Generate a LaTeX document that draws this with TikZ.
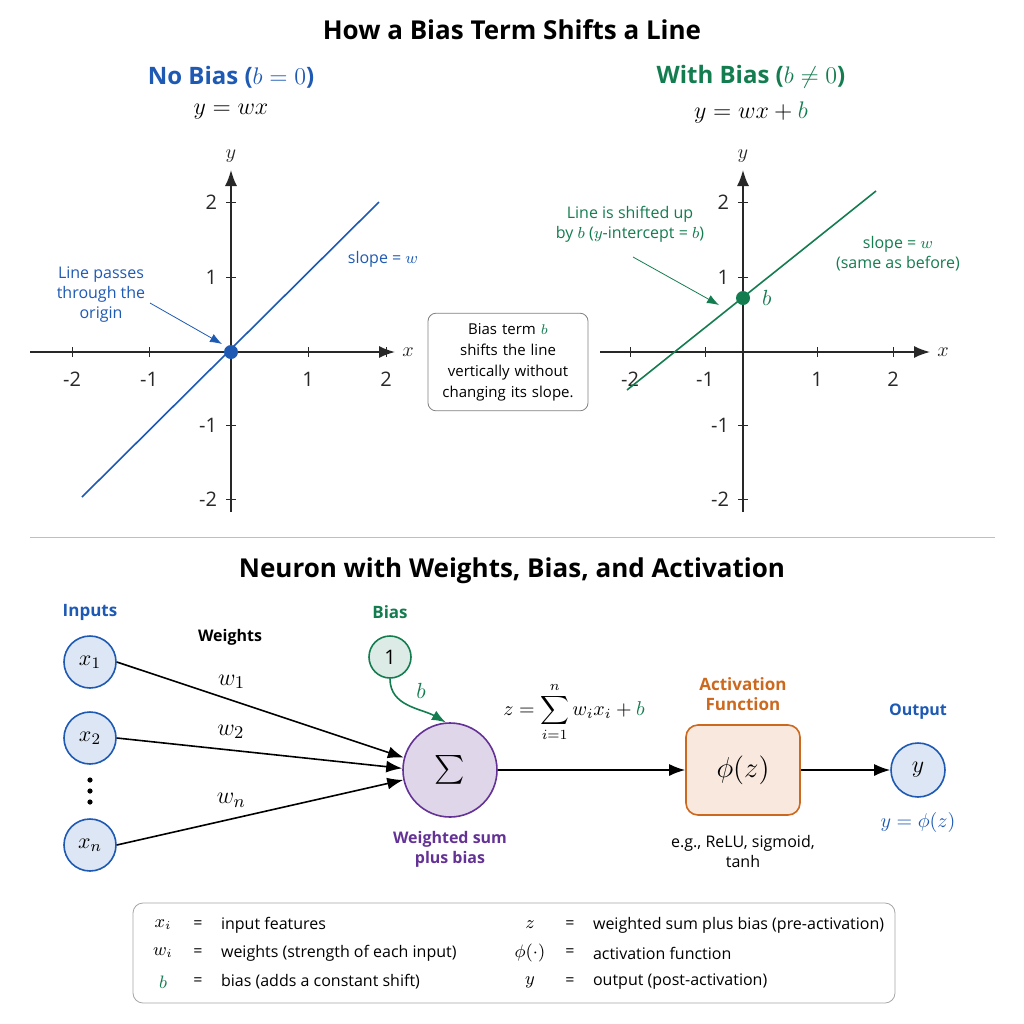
\documentclass[tikz,border=0pt]{standalone}
\usepackage{fontspec}
\setmainfont{Open Sans}
\usepackage{amsmath}
\usetikzlibrary{arrows.meta, positioning}
\definecolor{biasblue}{RGB}{30,90,180}
\definecolor{biasgreen}{RGB}{20,125,80}
\definecolor{sumpurple}{RGB}{100,50,150}
\definecolor{actorange}{RGB}{205,105,30}
\definecolor{axgray}{RGB}{40,40,40}
\tikzset{
  axis/.style={thick, axgray, -{Latex[length=8pt]}},
  tick/.style={font=\fontsize{10}{12}\selectfont},
  note/.style={font=\fontsize{8}{10}\selectfont, align=center},
  innode/.style={circle, draw=biasblue, fill=biasblue!15, thick, minimum size=26pt, inner sep=0pt, font=\fontsize{11}{13}\selectfont},
  link/.style={thick, -{Latex[length=8pt]}},
  wlbl/.style={above=2pt, pos=0.4, font=\fontsize{13}{15}\selectfont},
}
\begin{document}
\begin{tikzpicture}[x=0.5pt, y=-0.5pt]
    \useasboundingbox (0,0) rectangle (1024,1024);
    \fill[white] (0,0) rectangle (1024,1024);
    \node[font=\fontsize{13}{15}\selectfont\bfseries] (ttl) at (512,30) {How a Bias Term Shifts a Line};

    % No bias plot
    \node[font=\fontsize{12}{14}\selectfont\bfseries, text=biasblue] (nbh) at (231,77) {No Bias ($b=0$)};
    \node[font=\fontsize{12}{14}\selectfont] (nbe) at (231,112) {$y = wx$};
    \coordinate (lo) at (231,352);
    \draw[axis] (30,352) -- (395,352) node[right, font=\fontsize{10}{12}\selectfont] {$x$};
    \draw[axis] (231,512) -- (231,170) node[above, font=\fontsize{10}{12}\selectfont] {$y$};
    \foreach \k/\t in {72/-2,149/-1,308/1,386/2}
      \draw[axgray] (\k,347) -- (\k,357) node[below=4pt, tick] {\t};
    \foreach \k/\t in {202/2,277/1,425/-1,499/-2}
      \draw[axgray] (226,\k) -- (236,\k) node[left=6pt, tick] {\t};
    \draw[biasblue, thick] (82,497) -- (379,202);
    \fill[biasblue] (lo) circle (7);
    \node[note, text=biasblue] (pass) at (101,295) {Line passes\\through the\\origin};
    \draw[biasblue, -{Latex[length=6pt]}] (150,303) -- (222,344);
    \node[note, text=biasblue] (slp1) at (383,259) {slope = $w$};

    % middle note
    \node[draw=gray, rounded corners=4pt, note, font=\fontsize{7.5}{10.5}\selectfont, inner sep=5pt, text width=70pt] (mid) at (508,362)
      {Bias term \textcolor{biasgreen}{$b$}\\shifts the line\\vertically without\\changing its slope.};

    % With bias plot
    \node[font=\fontsize{12}{14}\selectfont\bfseries, text=biasgreen] (wbh) at (751,77) {With Bias ($b\neq0$)};
    \node[font=\fontsize{12}{14}\selectfont] (wbe) at (751,112) {$y = wx + \textcolor{biasgreen}{b}$};
    \coordinate (ro) at (743,298);
    \draw[axis] (600,352) -- (930,352) node[right, font=\fontsize{10}{12}\selectfont] {$x$};
    \draw[axis] (743,512) -- (743,170) node[above, font=\fontsize{10}{12}\selectfont] {$y$};
    \foreach \k/\t in {630/-2,705/-1,817/1,893/2}
      \draw[axgray] (\k,347) -- (\k,357) node[below=4pt, tick] {\t};
    \foreach \k/\t in {202/2,277/1,425/-1,499/-2}
      \draw[axgray] (738,\k) -- (748,\k) node[left=6pt, tick] {\t};
    \draw[biasgreen, thick] (627,390) -- (876,191);
    \fill[biasgreen] (ro) circle (7);
    \node[font=\fontsize{11}{13}\selectfont, text=biasgreen, right=6pt] at (ro.east) {$b$};
    \node[note, text=biasgreen] (shift) at (630,224) {Line is shifted up\\by $b$ ($y$-intercept = $b$)};
    \draw[biasgreen, -{Latex[length=6pt]}] (633,257) -- (719,305);
    \node[note, text=biasgreen] (slp2) at (898,254) {slope = $w$\\(same as before)};

    \draw[gray!50] (30,537) -- (995,537);

    % Neuron
    \node[font=\fontsize{13}{15}\selectfont\bfseries] (ttl2) at (512,571) {Neuron with Weights, Bias, and Activation};
    \node[note, font=\fontsize{8.5}{10}\selectfont\bfseries, text=biasblue] (inp) at (90,612) {Inputs};
    \node[note, font=\fontsize{8}{10}\selectfont\bfseries] (wts) at (230,637) {Weights};
    \node[innode] (x1) at (90,662) {$x_1$};
    \node[innode] (x2) at (90,738) {$x_2$};
    \foreach \yy in {780,791,802} \fill (90,\yy) circle (2.6);
    \node[innode] (xn) at (90,845) {$x_n$};
    \node[circle, draw=sumpurple, fill=sumpurple!20, thick, minimum size=47pt] (sum) at (450,770) {\Large$\sum$};
    \node[note, font=\fontsize{8}{10}\selectfont\bfseries, text=sumpurple, below=3pt of sum] (sumlbl) {Weighted sum\\plus bias};
    \node[note, font=\fontsize{8.5}{10}\selectfont\bfseries, text=biasgreen] (biash) at (390,612) {Bias};
    \node[circle, draw=biasgreen, fill=biasgreen!15, thick, minimum size=21pt] (one) at (390,657) {1};
    \draw[link] (x1.east) -- node[wlbl] {$w_1$} (sum.165);
    \draw[link] (x2.east) -- node[wlbl] {$w_2$} (sum.178);
    \draw[link] (xn.east) -- node[wlbl] {$w_n$} (sum.192);
    \draw[biasgreen, thick, -{Latex[length=7pt]}] (one.south) to[out=-90, in=150] node[above right, font=\fontsize{11}{13}\selectfont] {$b$} (sum.95);
    \node[font=\fontsize{10}{12}\selectfont] (zeq) at (574,712) {$z=\displaystyle\sum_{i=1}^{n} w_i x_i + \textcolor{biasgreen}{b}$};
    \node[draw=actorange, fill=actorange!15, thick, rounded corners=6pt, minimum width=57pt, minimum height=45pt] (act) at (743,770) {\Large$\phi(z)$};
    \node[note, font=\fontsize{8.5}{10}\selectfont\bfseries, text=actorange, above=3pt of act] (acth) {Activation\\Function};
    \node[note, below=6pt of act] (actex) {e.g., ReLU, sigmoid,\\tanh};
    \node[innode, minimum size=27pt] (out) at (918,770) {\large$y$};
    \node[note, font=\fontsize{8}{10}\selectfont\bfseries, text=biasblue, above=8pt of out] (outh) {Output};
    \node[font=\fontsize{10}{12}\selectfont, text=biasblue, below=4pt of out] (outeq) {$y=\phi(z)$};
    \draw[link] (sum.east) -- (act.west);
    \draw[link] (act.east) -- (out.west);

    % legend
    \draw[gray!70, rounded corners=5pt] (133,903) rectangle (895,1003);
    \foreach \yy/\s/\d in {925/$x_i$/input features, 953/$w_i$/weights (strength of each input), 982/\textcolor{biasgreen}{$b$}/bias (adds a constant shift)}
      {\node[note, font=\fontsize{9}{10}\selectfont] at (163,\yy) {\s}; \node[note] at (198,\yy) {=}; \node[note, anchor=west] at (214,\yy) {\d};}
    \foreach \yy/\s/\d in {925/$z$/weighted sum plus bias (pre-activation), 953/$\phi(\cdot)$/activation function, 982/$y$/output (post-activation)}
      {\node[note, font=\fontsize{9}{10}\selectfont] at (530,\yy) {\s}; \node[note] at (570,\yy) {=}; \node[note, anchor=west] at (586,\yy) {\d};}
\end{tikzpicture}
\end{document}
